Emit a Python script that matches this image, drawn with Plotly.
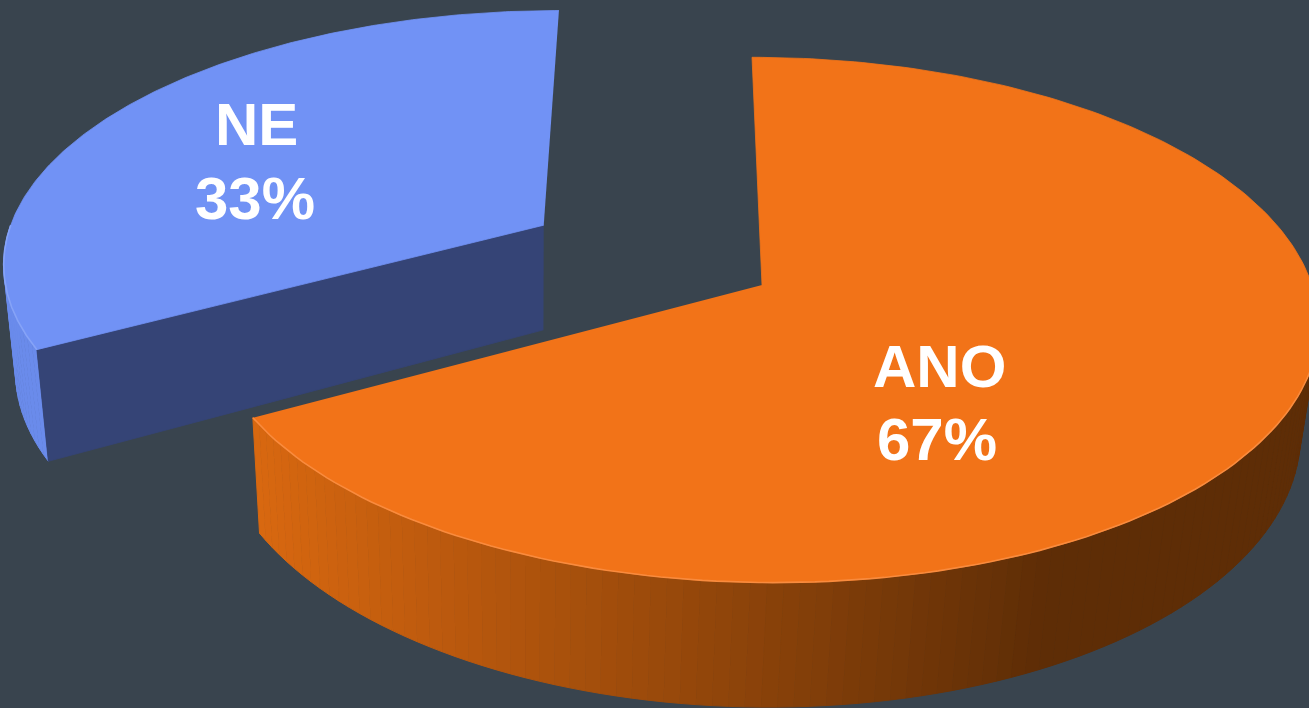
import numpy as np
import plotly.graph_objects as go

# ---- data ----
categories = ["ANO", "NE"]
values = [67, 33]

# ---- style ----
TOP_COLORS = {"ANO": "#F27318", "NE": "#7192F5"}
WALL_LIGHT = {"ANO": (217, 104, 16), "NE": (106, 139, 235)}
WALL_DARK = {"ANO": (94, 45, 6), "NE": (80, 105, 190)}
CUT_COLORS = {"ANO": "#B4540E", "NE": "#354476"}
RIM_COLORS = {"ANO": "#F98B3E", "NE": "#86A3F7"}
EXPLODE = {"ANO": 0.0, "NE": 0.47}
LABEL_XY = {"ANO": [(939, 366), (937, 439)], "NE": [(256, 124), (255, 198)]}
BG = "#39444E"
W, H = 1309, 708
# projection parameters (pixels)
CX, CY, A, B, P, DEPTH = 762, 285, 550, 258, 0.133, 108
X0 = 677            # horizontal centre of perspective
VPX, VPD = 530, 4800  # vertical vanishing point


def proj(u, v, z=0.0):
    u = np.asarray(u, dtype=float)
    v = np.asarray(v, dtype=float)
    s = 1.0 / (1.0 - P * v)
    x = X0 + (CX + A * u - X0) * s
    y = CY + B * v * s
    if z:
        dy = DEPTH * z * s
        x = x + (VPX - x) * dy / VPD
        y = y + dy
    return x, y


def rim(theta_deg, off, z=0.0):
    t = np.radians(theta_deg)
    return proj(off[0] + np.sin(t), off[1] - np.cos(t), z)


def poly(x, y, color, lw=0.8):
    return go.Scatter(x=list(np.atleast_1d(x)), y=list(np.atleast_1d(y)), mode="lines",
                      fill="toself", fillcolor=color, line=dict(color=color, width=lw),
                      hoverinfo="skip", showlegend=False)


def mix(c1, c2, t):
    return "rgb(%d,%d,%d)" % tuple(round(a + (b - a) * t) for a, b in zip(c1, c2))


total = float(sum(values))
slices = []
start = 0.0
for cat, val in zip(categories, values):
    span = 360.0 * val / total
    mid = np.radians(start + span / 2)
    e = EXPLODE[cat]
    off = (e * np.sin(mid), -e * np.cos(mid))
    slices.append(dict(cat=cat, val=val, t1=start, t2=start + span, off=off))
    start += span

# draw far slices first
slices.sort(key=lambda s: s["off"][1])

fig = go.Figure()
for s in slices:
    cat, t1, t2, off = s["cat"], s["t1"], s["t2"], s["off"]
    # outer wall (front-facing part)
    w1, w2 = max(t1, 90.0), min(t2, 270.0)
    if w2 > w1:
        n = max(4, int((w2 - w1) / 1.5))
        edges = np.linspace(w1, w2, n + 1)
        for a0, a1 in zip(edges[:-1], edges[1:]):
            th = np.linspace(a0, a1, 4)
            xt, yt = rim(th, off, 0.0)
            xb, yb = rim(th[::-1], off, 1.0)
            xm = float(np.mean(xt))
            t = float(np.clip((xm - 250) / 800.0, 0, 1))
            c = mix(WALL_LIGHT[cat], WALL_DARK[cat], t)
            fig.add_trace(poly(np.r_[xt, xb], np.r_[yt, yb], c, 1.0))
    # radial cut faces
    for th, sign in ((t1, -1), (t2, 1)):
        r = np.radians(th)
        if sign * np.sin(r) > 0.01:
            xa, ya = proj(off[0], off[1], 0.0)
            xa2, ya2 = proj(off[0], off[1], 1.0)
            xr, yr = rim(th, off, 0.0)
            xr2, yr2 = rim(th, off, 1.0)
            fig.add_trace(poly([float(xa), float(xr), float(xr2), float(xa2)],
                               [float(ya), float(yr), float(yr2), float(ya2)],
                               CUT_COLORS[cat]))
    # top face
    th = np.linspace(t1, t2, 240)
    xt, yt = rim(th, off, 0.0)
    xa, ya = proj(off[0], off[1], 0.0)
    fig.add_trace(poly(np.r_[xa, xt], np.r_[ya, yt], TOP_COLORS[cat]))
    # rim highlight on the front edge
    if w2 > w1:
        th = np.linspace(w1, w2, 120)
        xr, yr = rim(th, off, 0.0)
        fig.add_trace(go.Scatter(x=xr, y=yr, mode="lines",
                                 line=dict(color=RIM_COLORS[cat], width=1.6),
                                 hoverinfo="skip", showlegend=False))

# labels
for cat, val in zip(categories, values):
    pct = "%d%%" % round(100 * val / total)
    for txt, (lx, ly) in zip([cat, pct], LABEL_XY[cat]):
        fig.add_annotation(x=lx, y=ly, text=txt, showarrow=False,
                           xanchor="center", yanchor="middle",
                           font=dict(family="Liberation Sans, Arial, sans-serif",
                                     size=60, color="white", weight="bold"))

fig.update_layout(
    width=W, height=H, margin=dict(l=0, r=0, t=0, b=0),
    paper_bgcolor=BG, plot_bgcolor=BG, showlegend=False,
    xaxis=dict(range=[0, W], visible=False, fixedrange=True),
    yaxis=dict(range=[H, 0], visible=False, fixedrange=True),
)
fig.write_html("out.html", config={"displayModeBar": False},
               post_script="document.body.style.margin='0';")
